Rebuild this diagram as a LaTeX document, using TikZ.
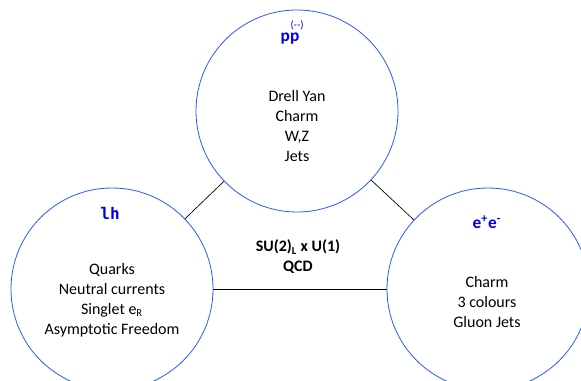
\documentclass[tikz,border=0pt]{standalone}
\usepackage{fontspec}
\setmainfont{Carlito}
\newfontfamily\codefont{DejaVu Sans Mono}
\usepackage{xcolor}
\usetikzlibrary{positioning,calc}
\definecolor{ringblue}{RGB}{40,90,255}
\definecolor{titleblue}{RGB}{0,0,240}

\begin{document}
\begin{tikzpicture}[x=0.75pt, y=-0.75pt,
    ring/.style={circle, draw=ringblue, line width=0.6pt, minimum size=151.5pt, inner sep=0pt},
    ringtitle/.style={text=titleblue, font=\fontsize{13}{15}\selectfont\bfseries},
    ringtext/.style={align=center, font=\fontsize{12}{15}\selectfont},
    link/.style={draw=black, line width=0.5pt}]
    \useasboundingbox (0,0) rectangle (581,381);

    % the three experiment circles
    \node[ring] (pp) at (297,111) {};
    \node[ring] (lh) at (112,289) {};
    \node[ring] (ee) at (488,289) {};

    % connectors
    \draw[link] (lh) -- (pp);
    \draw[link] (pp) -- (ee);
    \draw[link] (lh) -- (ee);

    % titles
    \node[ringtitle, inner sep=0pt] (pptitle) at (290,39) {pp};
    \node[text=titleblue, inner sep=0pt, font=\fontsize{8}{8}\selectfont] (ppbar) at (297,25) {(-{}-)};
    \node[ringtitle, font=\fontsize{12}{14}\selectfont\codefont\bfseries] (lhtitle) at (110,213) {lh};
    \node[ringtitle] (eetitle) at (487,222) {e\textsuperscript{+}e\textsuperscript{-}};

    % physics in each circle
    \node[ringtext] (pptext) at (297,126) {Drell Yan\\Charm\\W,Z\\Jets};
    \node[ringtext] (lhtext) at (112,300) {Quarks\\Neutral currents\\Singlet e\textsubscript{R}\\Asymptotic Freedom};
    \node[ringtext] (eetext) at (487,302) {Charm\\3 colours\\Gluon Jets};

    % common ground
    \node[ringtext, font=\fontsize{12}{15}\selectfont\bfseries] (theory) at (298,257) {SU(2)\textsubscript{L} x U(1)\\QCD};
\end{tikzpicture}
\end{document}
